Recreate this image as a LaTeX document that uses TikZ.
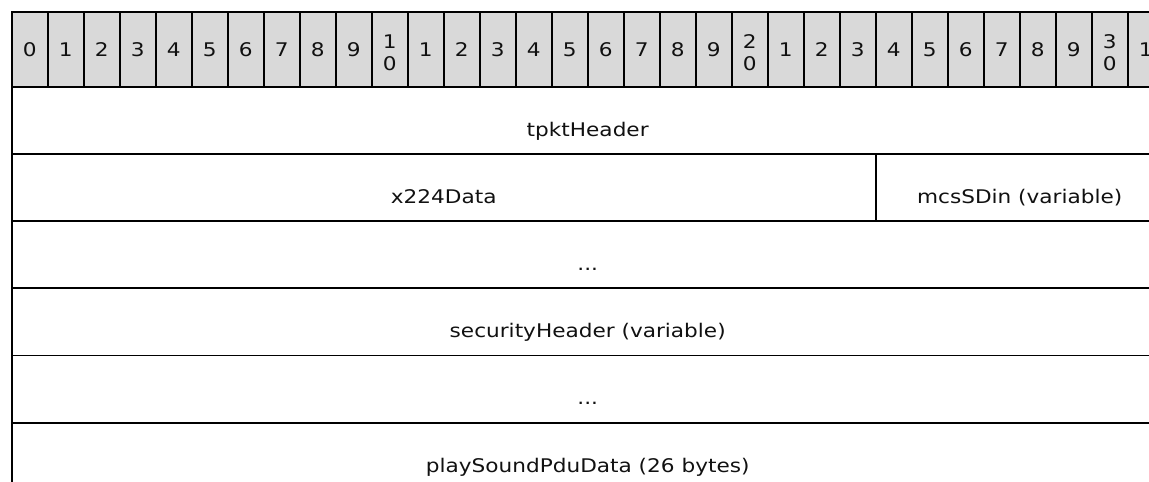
\documentclass[tikz,border=0pt]{standalone}
\usepackage{fontspec}
\setmainfont{DejaVu Sans}[FakeStretch=1.15]
\definecolor{hdr}{HTML}{D9D9D9}
\definecolor{txt}{HTML}{111111}
\begin{document}
\begin{tikzpicture}[x=1pt,y=-1pt,line width=1.9pt,
  lbl/.style={font=\fontsize{18.8}{22}\selectfont,text=txt,inner sep=0pt,anchor=base},
  hcell/.style={draw=black,fill=hdr},
  fcell/.style={draw=black}]
\useasboundingbox (0,0) rectangle (1149,482);
\clip (0,0) rectangle (1149,482);
% header row
\foreach \k in {0,...,31}{
  \pgfmathsetmacro\xl{11.7+36*\k}
  \pgfmathtruncatemacro\u{mod(\k,10)}
  \pgfmathtruncatemacro\t{div(\k,10)}
  \draw[hcell] (\xl,11.7) rectangle ++(36,75);
  \ifnum\u=0
    \ifnum\k>0
      \node[lbl] (b\k a) at (\xl+18,48.3) {\t};
      \node[lbl] (b\k b) at (\xl+18,70) {0};
    \else
      \node[lbl] (b\k) at (\xl+18,56) {\u};
    \fi
  \else
    \node[lbl] (b\k) at (\xl+18,56) {\u};
  \fi
}
% field rows
\draw[fcell] (11.7,86.7) rectangle (1163.7,153.9);
\draw[fcell] (11.7,153.9) rectangle (875.7,221.1);
\draw[fcell] (875.7,153.9) rectangle (1163.7,221.1);
\draw[fcell] (11.7,221.1) rectangle (1163.7,288.3);
\draw[fcell] (11.7,288.3) rectangle (1163.7,355.5);
\draw[fcell] (11.7,355.5) rectangle (1163.7,422.7);
\draw[fcell] (11.7,422.7) rectangle (1163.7,489.9);
% labels
\node[lbl] (tpkt) at (587.7,136) {tpktHeader};
\node[lbl] (x224) at (443.7,203.2) {x224Data};
\node[lbl] (mcs) at (1019.7,203.2) {mcsSDin (variable)};
\node[lbl] (dots1) at (587.7,270.4) {...};
\node[lbl] (sec) at (587.7,337.6) {securityHeader (variable)};
\node[lbl] (dots2) at (587.7,404.8) {...};
\node[lbl] (play) at (587.7,472) {playSoundPduData (26 bytes)};
\end{tikzpicture}
\end{document}
